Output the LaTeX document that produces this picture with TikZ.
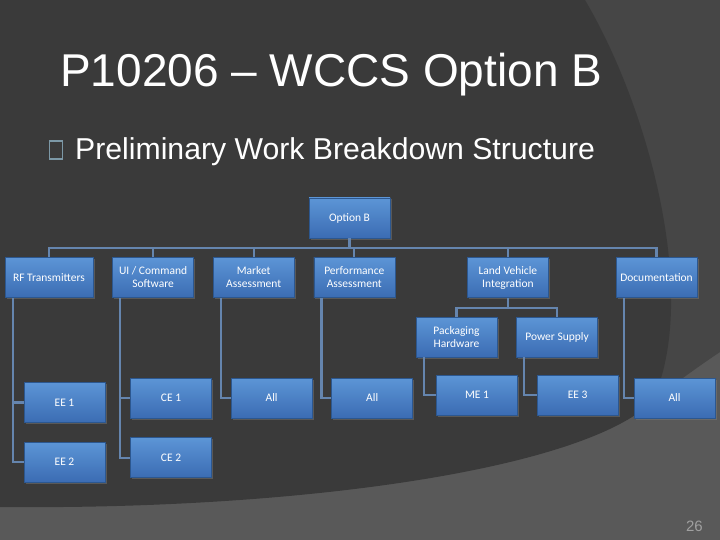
\documentclass[tikz,border=0pt]{standalone}
\usepackage{fontspec}
\setmainfont{Liberation Sans}
\newfontfamily\boxfont{Carlito}
\usetikzlibrary{calc,positioning,shadows}
\definecolor{SlateDark}{HTML}{3A3A3A}
\definecolor{SlateMid}{HTML}{464646}
\definecolor{SlateLight}{HTML}{595959}
\definecolor{BoxTop}{HTML}{5C95D6}
\definecolor{BoxBottom}{HTML}{3B6CB3}
\definecolor{BoxEdge}{HTML}{2C578F}
\definecolor{LinkBlue}{HTML}{6585AE}
\definecolor{BulletGrey}{HTML}{7C98A6}
\definecolor{PageGrey}{HTML}{A0A0A0}

\begin{document}
\begin{tikzpicture}[x=1pt,y=-1pt,node distance=19pt,
    wbs/.style={rectangle,minimum width=81pt,minimum height=40pt,inner sep=1pt,
                align=center,text=white,font=\boxfont\fontsize{11.5}{13}\selectfont,
                top color=BoxTop,bottom color=BoxBottom,draw=BoxEdge,line width=.6pt,
                drop shadow={opacity=.45,shadow xshift=1.5pt,shadow yshift=-1.5pt}},
    link/.style={LinkBlue,line width=2.2pt}]
    \useasboundingbox (0,0) rectangle (720,540);
    % slide background
    \fill[SlateLight] (0,0) rectangle (720,540);
    \fill[SlateMid] (555,0) -- (720,0) -- (720,352) .. controls (690,372) and (660,395) .. (625,420) -- (555,420) -- cycle;
    \fill[SlateDark] (0,0) -- (585,0) .. controls (650,110) and (700,300) .. (652,402)
        .. controls (580,470) and (300,510) .. (0,507) -- cycle;
    % headings
    \node[anchor=base west,inner sep=0,text=white,font=\fontsize{46}{54}\selectfont] (title) at (60,87) {P10206 – WCCS Option B};
    \node[draw=BulletGrey,line width=1.2pt,minimum width=13pt,minimum height=18pt,inner sep=0] (bullet) at (56,150) {};
    \node[anchor=base west,inner sep=0,text=white,font=\fontsize{30.2}{35}\selectfont] (sub) at (75,160) {Preliminary Work Breakdown Structure};
    \node[anchor=base east,inner sep=0,text=PageGrey,font=\fontsize{15}{18}\selectfont] (page) at (703,531) {26};
    % breakdown boxes
    \node[wbs] (opt) at (349.5,218) {Option B};
    \node[wbs,minimum width=88pt] (rf) at (49,277.5) {RF Transmitters};
    \node[wbs,right=of rf] (ui) {UI / Command\\Software};
    \node[wbs,right=of ui] (mkt) {Market\\Assessment};
    \node[wbs,right=of mkt] (perf) {Performance\\Assessment};
    \node[wbs,right=72pt of perf] (land) {Land Vehicle\\Integration};
    \node[wbs,right=67pt of land] (doc) {Documentation};
    \node[wbs] (pack) at (456.5,337) {Packaging\\Hardware};
    \node[wbs,right=of pack] (pwr) {Power Supply};
    \node[wbs] (ee1) at (64.5,402.5) {EE 1};
    \node[wbs,below=of ee1] (ee2) {EE 2};
    \node[wbs] (ce1) at (171,398) {CE 1};
    \node[wbs,below=of ce1] (ce2) {CE 2};
    \node[wbs,right=of ce1] (all1) {All};
    \node[wbs,right=of all1] (all2) {All};
    \node[wbs] (me1) at (477,395) {ME 1};
    \node[wbs,right=of me1] (ee3) {EE 3};
    \node[wbs] (all3) at (674.5,398) {All};
    % tree links
    \draw[link] (opt.south) -- +(0,10) -| (rf.north);
    \draw[link] (opt.south) -- +(0,10) -| (ui.north);
    \draw[link] (opt.south) -- +(0,10) -| (mkt.north);
    \draw[link] (opt.south) -- +(0,10) -| (perf.north);
    \draw[link] (opt.south) -- +(0,10) -| (land.north);
    \draw[link] (opt.south) -- +(0,10) -| (doc.north);
    \draw[link] (land.south) -- +(0,10) -| (pack.north);
    \draw[link] (land.south) -- +(0,10) -| (pwr.north);
    \draw[link] ([xshift=8pt]rf.south west) |- (ee1.west);
    \draw[link] ([xshift=8pt]rf.south west) |- (ee2.west);
    \draw[link] ([xshift=8pt]ui.south west) |- (ce1.west);
    \draw[link] ([xshift=8pt]ui.south west) |- (ce2.west);
    \draw[link] ([xshift=8pt]mkt.south west) |- (all1.west);
    \draw[link] ([xshift=8pt]perf.south west) |- (all2.west);
    \draw[link] ([xshift=8pt]pack.south west) |- (me1.west);
    \draw[link] ([xshift=8pt]pwr.south west) |- (ee3.west);
    \draw[link] ([xshift=8pt]doc.south west) |- (all3.west);
\end{tikzpicture}
\end{document}
